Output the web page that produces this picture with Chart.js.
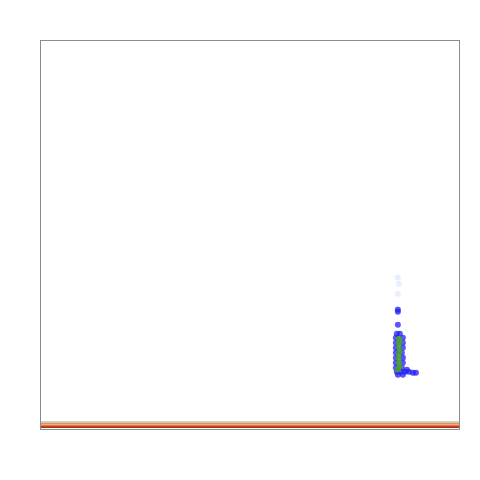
<!DOCTYPE html>
<html>
<head>
<meta charset="utf-8">
<script src="https://cdn.jsdelivr.net/npm/chart.js@4"></script>
<style>
html,body{margin:0;padding:0;background:#fff;}
#wrap{width:480px;height:480px;}
</style>
</head>
<body>
<div id="wrap"><canvas id="c" width="480" height="480"></canvas></div>
<script>
// Axis ranges (arbitrary units, no ticks shown in reference)
const xRange = [0, 418];
const yRange = [0, 388];

// Horizontal dense band at the bottom: [y level]
const bandLevels = [7.0, 5.6, 4.5, 3.4, 2.0];
const bandColors = ['#b9c4b4', '#ee8a5c', '#f6b48a', '#e8764a', '#a8321e'];
const bandWidths = [1.5, 1.5, 1.2, 1.2, 1.8];

// Blob: outer light halo points
const haloX = [357, 358, 357, 357, 356, 362, 358, 366, 372, 375];
const haloY = [151, 145, 135, 120, 80, 72, 55, 57, 56, 56];

// Blob: blue points
const blueX = [357, 357, 357, 356, 359, 355, 362, 355, 362, 355, 362, 355, 361, 355, 362, 355, 362, 355, 361, 356, 360, 364, 368, 372, 375, 366, 357, 362];
const blueY = [119, 117, 104, 95, 95, 91, 91, 86, 86, 81, 81, 76, 76, 71, 71, 66, 66, 61, 61, 57, 57, 57, 57, 56, 56, 59, 54, 54];

// Blob: green core points
const greenX = [358, 358, 358, 359, 358, 358, 358, 359, 357, 359];
const greenY = [90, 86, 82, 78, 74, 70, 66, 62, 59, 88];

function pts(xs, ys) { return xs.map((x, i) => ({x: x, y: ys[i]})); }

const datasets = [];
bandLevels.forEach((lv, i) => {
  datasets.push({
    type: 'line',
    order: 5,
    data: [{x: xRange[0], y: lv}, {x: xRange[1], y: lv}],
    borderColor: bandColors[i],
    borderWidth: bandWidths[i],
    pointRadius: 0,
    fill: false
  });
});
datasets.push({type: 'scatter', order: 3, data: pts(haloX, haloY), backgroundColor: 'rgba(110,140,255,0.15)', borderWidth: 0, pointRadius: 3});
datasets.push({type: 'scatter', order: 2, data: pts(blueX, blueY), backgroundColor: 'rgba(35,30,245,0.75)', borderWidth: 0, pointRadius: 3});
datasets.push({type: 'scatter', order: 1, data: pts(greenX, greenY), backgroundColor: 'rgba(75,160,45,0.9)', borderWidth: 0, pointRadius: 2.8});

const boxPlugin = {
  id: 'box',
  afterDraw(chart) {
    const a = chart.chartArea, ctx = chart.ctx;
    ctx.save();
    ctx.strokeStyle = '#8c8c8c';
    ctx.lineWidth = 1;
    ctx.strokeRect(a.left + 0.5, a.top + 0.5, a.right - a.left, a.bottom - a.top);
    ctx.restore();
  }
};

new Chart(document.getElementById('c'), {
  type: 'scatter',
  data: {datasets: datasets},
  options: {
    responsive: false,
    animation: false,
    layout: {padding: {left: 40, top: 40, right: 21, bottom: 51}},
    plugins: {legend: {display: false}, tooltip: {enabled: false}},
    scales: {
      x: {type: 'linear', min: xRange[0], max: xRange[1], display: false},
      y: {type: 'linear', min: yRange[0], max: yRange[1], display: false}
    }
  },
  plugins: [boxPlugin]
});
</script>
</body>
</html>
